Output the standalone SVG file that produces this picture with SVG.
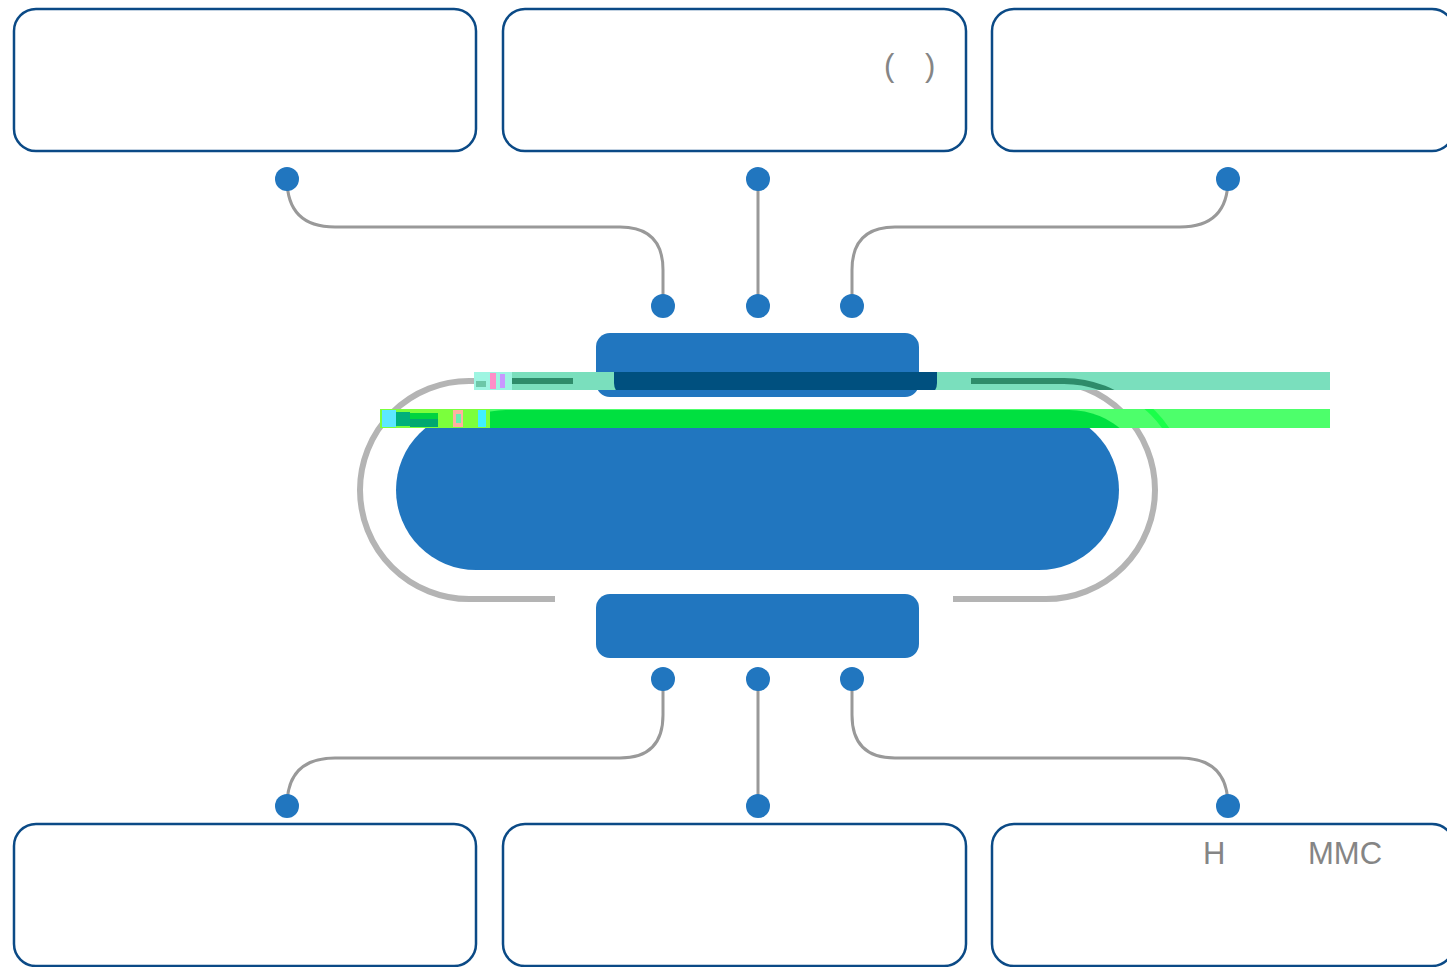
<svg xmlns="http://www.w3.org/2000/svg" width="1447" height="967" viewBox="0 0 1447 967">
<style>
.box{fill:#fff;stroke:#0b4a86;stroke-width:2.5}
.dot{fill:#2176bf}
.conn{fill:none;stroke:#999;stroke-width:3}
.arc{fill:none;stroke:#b4b4b4;stroke-width:6}
.core{fill:#2176bf}
.txt{font-family:"Liberation Sans",Arial,"Noto Sans CJK SC",sans-serif;font-size:31px;fill:#858585}
</style>
<defs>
<clipPath id="bandA"><rect x="474" y="372" width="856" height="18"/></clipPath>
<clipPath id="bandB"><rect x="380" y="409" width="950" height="19"/></clipPath>
</defs>
<rect width="1447" height="967" fill="#fff"/>
<g id="box-top-1"><rect class="box" x="14" y="9" width="462" height="142" rx="22"/></g>
<g id="box-top-2"><rect class="box" x="503" y="9" width="463" height="142" rx="22"/>
<text class="txt" x="884" y="76">(</text><text class="txt" x="925" y="76">)</text></g>
<g id="box-top-3"><rect class="box" x="992" y="9" width="462" height="142" rx="22"/></g>
<g id="box-bot-1"><rect class="box" x="14" y="824" width="462" height="142" rx="22"/></g>
<g id="box-bot-2"><rect class="box" x="503" y="824" width="463" height="142" rx="22"/></g>
<g id="box-bot-3"><rect class="box" x="992" y="824" width="462" height="142" rx="22"/>
<text class="txt" x="1203" y="864">H</text><text class="txt" x="1308" y="864">MMC</text></g>
<g id="connectors">
<path class="conn" d="M287,179 Q287,227 335,227 L620,227 Q663,227 663,270 L663,306"/>
<path class="conn" d="M758,179 L758,306"/>
<path class="conn" d="M1228,179 Q1228,227 1180,227 L895,227 Q852,227 852,270 L852,306"/>
<path class="conn" d="M663,679 L663,715 Q663,758 620,758 L335,758 Q287,758 287,806"/>
<path class="conn" d="M758,679 L758,806"/>
<path class="conn" d="M852,679 L852,715 Q852,758 895,758 L1180,758 Q1228,758 1228,806"/>
<path class="arc" d="M555,381 L469,381 A109,109 0 0 0 469,599 L555,599"/>
<path class="arc" d="M953,381 L1046,381 A109,109 0 0 1 1046,599 L953,599"/>
</g>
<g id="dots">
<circle class="dot" cx="287" cy="179" r="12"/><circle class="dot" cx="758" cy="179" r="12"/><circle class="dot" cx="1228" cy="179" r="12"/>
<circle class="dot" cx="663" cy="306" r="12"/><circle class="dot" cx="758" cy="306" r="12"/><circle class="dot" cx="852" cy="306" r="12"/>
<circle class="dot" cx="663" cy="679" r="12"/><circle class="dot" cx="758" cy="679" r="12"/><circle class="dot" cx="852" cy="679" r="12"/>
<circle class="dot" cx="287" cy="806" r="12"/><circle class="dot" cx="758" cy="806" r="12"/><circle class="dot" cx="1228" cy="806" r="12"/>
</g>
<g id="node-top"><rect class="core" x="596" y="333" width="323" height="64" rx="14"/></g>
<g id="node-center"><rect class="core" x="396" y="410" width="723" height="160" rx="80"/></g>
<g id="node-bottom"><rect class="core" x="596" y="594" width="323" height="64" rx="14"/></g>
<g id="band-a" clip-path="url(#bandA)">
<rect x="474" y="372" width="856" height="18" fill="#7adfbd"/>
<g transform="translate(18,0)">
<rect x="596" y="333" width="323" height="64" rx="14" fill="#00507f"/>
<path d="M555,381 L469,381 A109,109 0 0 0 469,599" fill="none" stroke="#2e8c6a" stroke-width="6"/>
<path d="M953,381 L1046,381 A109,109 0 0 1 1046,599" fill="none" stroke="#2e8c6a" stroke-width="6"/>
</g>
<rect x="474" y="372" width="38" height="18" fill="#9ef5e2"/>
<rect x="490" y="373" width="6" height="16" fill="#ff8fc8"/>
<rect x="500" y="374" width="5" height="14" fill="#c898ff"/>
<rect x="476" y="381" width="10" height="6" fill="#6cc7a8"/>
</g>
<g id="band-b" clip-path="url(#bandB)">
<rect x="380" y="409" width="950" height="19" fill="#4dff6b"/>
<g transform="translate(30,0)">
<rect x="396" y="410" width="723" height="160" rx="80" fill="#00e040"/>
<path d="M1046,381 A109,109 0 0 1 1155,490" fill="none" stroke="#1aff4a" stroke-width="6"/>
</g>
<rect x="380" y="409" width="110" height="19" fill="#7bff3c"/>
<rect x="382" y="410" width="14" height="17" fill="#5ce8ff"/>
<rect x="396" y="412" width="14" height="14" fill="#00b07a"/>
<rect x="410" y="413" width="28" height="6" fill="#00d440"/>
<rect x="410" y="419" width="28" height="8" fill="#00a870"/>
<rect x="453" y="410" width="10" height="17" fill="#ffb0a0"/>
<rect x="456" y="414" width="5" height="9" fill="#66f0b0"/>
<rect x="478" y="410" width="8" height="17" fill="#40f0ff"/>
</g>
</svg>
